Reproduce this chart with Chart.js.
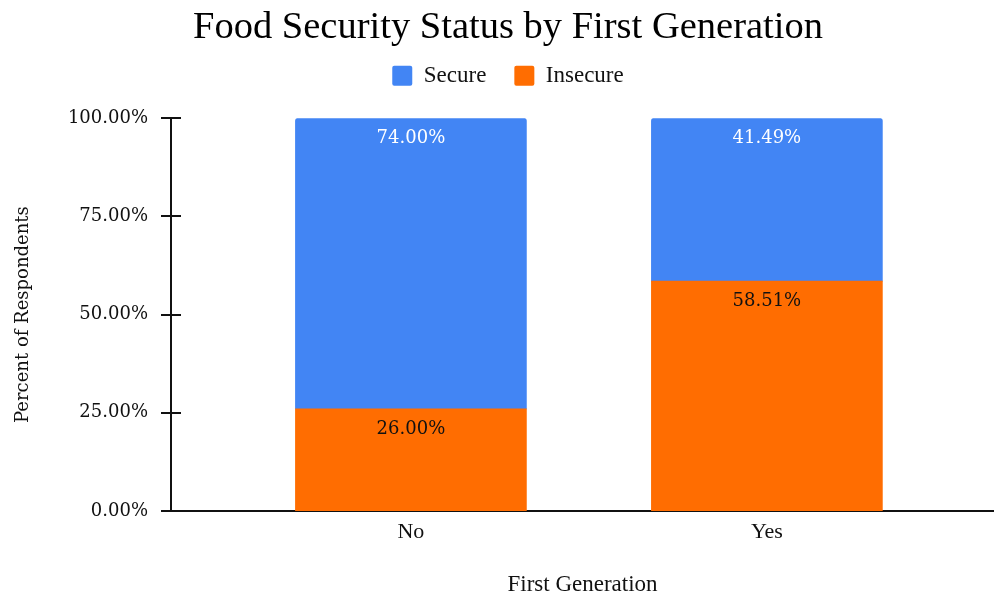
<!DOCTYPE html>
<html>
<head>
<meta charset="utf-8">
<title>Food Security Status by First Generation</title>
<script src="https://cdn.jsdelivr.net/npm/chart.js@4.4.1/dist/chart.umd.min.js"></script>
<style>
  html, body { margin: 0; padding: 0; background: #fff; }
  #wrap { width: 994px; height: 598px; }
</style>
</head>
<body>
<div id="wrap"><canvas id="chart" width="994" height="598"></canvas></div>
<script>
// Survey results: share of respondents by food security status
const categories = ['No', 'Yes'];
const secure = [74.00, 41.49];
const insecure = [26.00, 58.51];
const yTickValues = [0, 25, 50, 75, 100];

const BLUE = '#4285f4';
const ORANGE = '#ff6d01';
const SERIF_WIDE = 'DejaVu Serif';
const SERIF_NARROW = 'Liberation Serif';

const toPoints = arr => arr.map((v, i) => ({ x: i, y: v }));
const pct = v => v.toFixed(2) + '%';

// Small tick marks that cross the value axis line
const axisCrossTicks = {
  id: 'axisCrossTicks',
  afterDraw(chart) {
    const { ctx, chartArea, scales } = chart;
    ctx.save();
    ctx.strokeStyle = '#111';
    ctx.lineWidth = 2;
    yTickValues.forEach(v => {
      const y = Math.round(scales.y.getPixelForValue(v));
      ctx.beginPath();
      ctx.moveTo(chartArea.left - 10, y);
      ctx.lineTo(chartArea.left + 10, y);
      ctx.stroke();
    });
    ctx.restore();
  }
};

// Value labels just inside the top of each segment
const segmentLabels = {
  id: 'segmentLabels',
  afterDatasetsDraw(chart) {
    const { ctx } = chart;
    ctx.save();
    ctx.font = '18px "' + SERIF_WIDE + '"';
    ctx.textAlign = 'center';
    ctx.textBaseline = 'middle';
    chart.data.datasets.forEach((ds, i) => {
      const meta = chart.getDatasetMeta(i);
      ctx.fillStyle = ds.labelColor;
      meta.data.forEach((bar, j) => {
        ctx.fillText(pct(ds.data[j].y), bar.x, bar.y + 20);
      });
    });
    ctx.restore();
  }
};

// Extra room between the legend and the plot
const legendSpacing = {
  id: 'legendSpacing',
  afterInit(chart) {
    const legend = chart.legend;
    if (!legend) return;
    const fit = legend.fit;
    legend.fit = function () {
      fit.call(this);
      this.height += 21;
    };
  }
};

new Chart(document.getElementById('chart'), {
  type: 'bar',
  data: {
    datasets: [
      {
        label: 'Insecure',
        data: toPoints(insecure),
        backgroundColor: ORANGE,
        borderWidth: 0,
        borderRadius: 0,
        stack: 'total',
        labelColor: '#111'
      },
      {
        label: 'Secure',
        data: toPoints(secure),
        backgroundColor: BLUE,
        borderWidth: 0,
        borderRadius: { topLeft: 3, topRight: 3, bottomLeft: 0, bottomRight: 0 },
        borderSkipped: false,
        stack: 'total',
        labelColor: '#ffffff'
      }
    ]
  },
  options: {
    responsive: false,
    devicePixelRatio: 1,
    animation: false,
    barThickness: 231,
    layout: { padding: { top: 0, left: 22, right: 0, bottom: 0 } },
    plugins: {
      title: {
        display: true,
        text: 'Food Security Status by First Generation',
        color: '#000',
        font: { family: SERIF_NARROW, size: 38.5, weight: 'normal', lineHeight: 1.2 },
        padding: { top: 5, bottom: -15 }
      },
      legend: {
        display: true,
        position: 'top',
        reverse: true,
        labels: {
          color: '#111',
          font: { family: SERIF_NARROW, size: 23 },
          boxWidth: 20,
          boxHeight: 20,
          padding: 28,
          useBorderRadius: true,
          borderRadius: 2
        }
      },
      tooltip: { enabled: false }
    },
    scales: {
      x: {
        type: 'linear',
        offset: false,
        min: -0.674,
        max: 1.638,
        grid: { display: false, drawTicks: false },
        border: { display: true, color: '#111', width: 2 },
        afterBuildTicks: scale => {
          scale.ticks = categories.map((_, i) => ({ value: i }));
        },
        afterFit: scale => { scale.height = 87; },
        ticks: {
          color: '#111',
          font: { family: SERIF_NARROW, size: 22 },
          padding: 8,
          maxRotation: 0,
          autoSkip: false,
          callback: v => categories[v]
        },
        title: {
          display: true,
          text: 'First Generation',
          color: '#111',
          font: { family: SERIF_NARROW, size: 23 },
          padding: { top: 0, bottom: -1 }
        }
      },
      y: {
        stacked: true,
        min: 0,
        max: 100,
        grid: { display: false, drawTicks: false },
        border: { display: true, color: '#111', width: 2 },
        afterBuildTicks: scale => {
          scale.ticks = yTickValues.map(v => ({ value: v }));
        },
        afterFit: scale => { scale.width = 149; },
        ticks: {
          color: '#111',
          font: { family: SERIF_WIDE, size: 18 },
          padding: 23,
          callback: v => pct(v)
        },
        title: {
          display: true,
          text: 'Percent of Respondents',
          color: '#111',
          font: { family: SERIF_WIDE, size: 18 },
          padding: { top: -9, bottom: 0 }
        }
      }
    }
  },
  plugins: [axisCrossTicks, segmentLabels, legendSpacing]
});
</script>
</body>
</html>
